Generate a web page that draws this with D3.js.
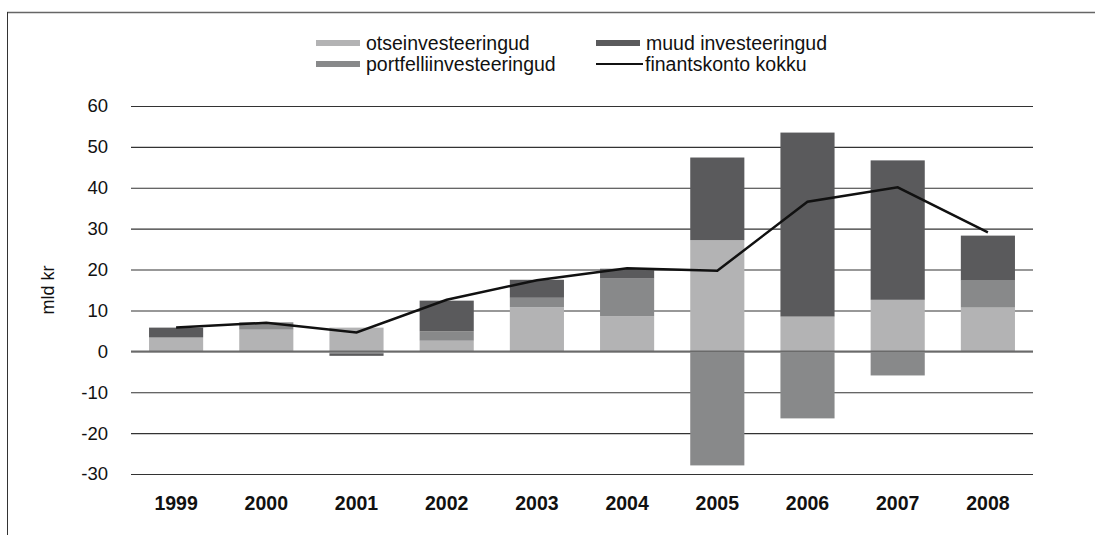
<!DOCTYPE html>
<html><head><meta charset="utf-8">
<script src="https://cdn.jsdelivr.net/npm/d3@7"></script>
<style>body{margin:0;background:#fff}svg{display:block;font-family:"Liberation Sans",Arial,sans-serif}</style>
</head><body><svg id="c" width="1095" height="535"></svg>
<script>
const years = ["1999","2000","2001","2002","2003","2004","2005","2006","2007","2008"];
const otse = [3.3, 5.3, 5.8, 2.6, 10.8, 8.6, 27.2, 8.5, 12.6, 10.7];
const portfelli = [0.2, 1.8, -0.5, 2.3, 2.3, 9.2, -27.9, -16.4, -5.9, 6.6];
const muud = [2.3, 0, -0.6, 7.5, 4.4, 2.4, 20.2, 45.0, 34.1, 11.0];
const kokku = [5.8, 7.0, 4.6, 12.6, 17.4, 20.3, 19.7, 36.6, 40.1, 29.1];
const yTicks = [-30,-20,-10,0,10,20,30,40,50,60];
const seriesNames = ["otseinvesteeringud","portfelliinvesteeringud","muud investeeringud"];
const lineName = "finantskonto kokku";
const colors = {"otseinvesteeringud":"#b3b3b4","portfelliinvesteeringud":"#88898a","muud investeeringud":"#5a5a5c"};

const svg = d3.select("#c");
const x = d3.scaleBand().domain(years).range([131,1033]).paddingInner(0.4).paddingOuter(0.2);
const y = d3.scaleLinear().domain([-30,60]).range([474,106]);

// frame
svg.append("line").attr("x1",7).attr("x2",1095).attr("y1",12.5).attr("y2",12.5).attr("stroke","#666").attr("stroke-width",1.5);
svg.append("line").attr("x1",7.5).attr("x2",7.5).attr("y1",12).attr("y2",535).attr("stroke","#333").attr("stroke-width",1);

// grid
const yAxis = d3.axisLeft(y).tickValues(yTicks).tickSize(-(1033-131)).tickPadding(23).tickFormat(d => String(d));
const ga = svg.append("g").attr("transform","translate(131,0)").call(yAxis);
ga.select(".domain").remove();
ga.selectAll(".tick line").attr("stroke","#333").attr("stroke-width",1.1);
ga.selectAll(".tick text").attr("font-size",18.5).attr("fill","#111").attr("font-family","'Liberation Sans',Arial,sans-serif");

// stacked bars
const table = years.map((yr,i)=>({year:yr,"otseinvesteeringud":otse[i],"portfelliinvesteeringud":portfelli[i],"muud investeeringud":muud[i]}));
const stack = d3.stack().keys(seriesNames).offset(d3.stackOffsetDiverging);
const stacked = stack(table);
svg.append("g").selectAll("g").data(stacked).join("g").attr("fill",d=>colors[d.key])
  .selectAll("rect").data(d=>d).join("rect")
  .attr("x",d=>x(d.data.year)).attr("width",x.bandwidth())
  .attr("y",d=>y(Math.max(d[0],d[1]))).attr("height",d=>Math.abs(y(d[0])-y(d[1])));

// zero line on top
svg.append("line").attr("x1",131).attr("x2",1033).attr("y1",y(0)).attr("y2",y(0)).attr("stroke","#6a6a6a").attr("stroke-width",1.5);

// total line
const line = d3.line().x((d,i)=>x(years[i])+x.bandwidth()/2).y(d=>y(d));
svg.append("path").datum(kokku).attr("d",line).attr("fill","none").attr("stroke","#111").attr("stroke-width",2.5);

// x labels
const xAxis = d3.axisBottom(x).tickSize(0).tickPadding(0);
const gx = svg.append("g").attr("transform","translate(0,496)").call(xAxis);
gx.select(".domain").remove();
gx.selectAll(".tick text").attr("font-size",19.5).attr("font-weight","bold").attr("fill","#111").attr("dy","0.71em").attr("font-family","'Liberation Sans',Arial,sans-serif");

// y title
svg.append("text").attr("transform","translate(54,290) rotate(-90)").attr("text-anchor","middle")
  .attr("font-size",18).attr("fill","#111").text("mld kr");

// legend
const leg = [
  {name:"otseinvesteeringud", x:316, y:43, type:"rect"},
  {name:"portfelliinvesteeringud", x:316, y:64, type:"rect"},
  {name:"muud investeeringud", x:596, y:43, type:"rect"},
  {name:lineName, x:596, y:64, type:"line"}
];
const lg = svg.append("g").selectAll("g").data(leg).join("g").attr("transform",d=>`translate(${d.x},${d.y})`);
lg.filter(d=>d.type==="rect").append("rect").attr("x",0).attr("y",-3).attr("width",44).attr("height",6).attr("fill",d=>colors[d.name]);
lg.filter(d=>d.type==="line").append("line").attr("x1",0).attr("x2",47).attr("y1",0).attr("y2",0).attr("stroke","#111").attr("stroke-width",2);
lg.append("text").attr("x",d=>d.type==="line"?49:50).attr("y",0).attr("dy","0.35em").attr("font-size",19.5).attr("fill","#111").text(d=>d.name);
</script></body></html>
